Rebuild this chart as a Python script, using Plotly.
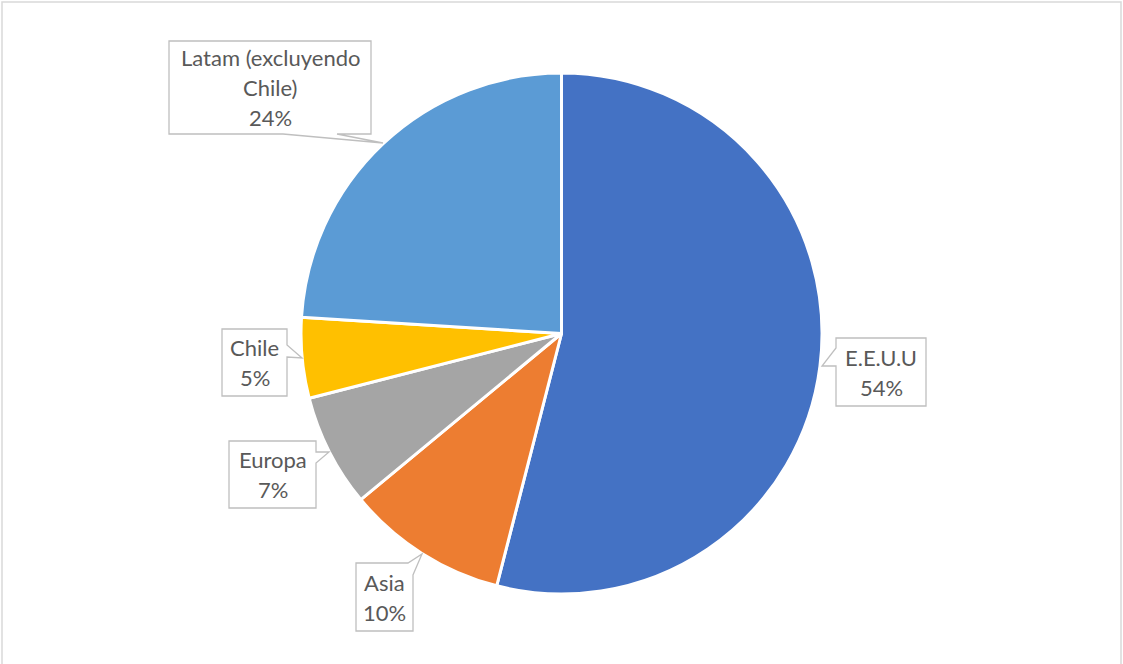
import plotly.graph_objects as go

# Regional distribution
regions = ["E.E.U.U", "Asia", "Europa", "Chile", "Latam (excluyendo Chile)"]
shares = [54, 10, 7, 5, 24]
colors = ["#4472C4", "#ED7D31", "#A5A5A5", "#FFC000", "#5B9BD5"]
label_lines = [["E.E.U.U"], ["Asia"], ["Europa"], ["Chile"], ["Latam (excluyendo", "Chile)"]]

W, H = 1123, 664
CX, CY, R = 561.5, 333.5, 260.5
LINE_GAP = 30

# Callout boxes (pixel space, y downward): box x0, y0, x1, y1 and outline polygon for the tail
callouts = {
    "E.E.U.U": dict(box=(836, 338, 926, 406),
                    path=[(836, 338), (926, 338), (926, 406), (836, 406), (836, 366), (822, 366), (836, 348)]),
    "Asia": dict(box=(356, 563, 413, 631),
                 path=[(356, 563), (408, 563), (422, 554), (413, 575), (413, 631), (356, 631)]),
    "Europa": dict(box=(229, 441, 316, 508),
                   path=[(229, 441), (316, 441), (316, 452), (329, 452), (316, 463), (316, 508), (229, 508)]),
    "Chile": dict(box=(222, 329, 287, 396),
                  path=[(222, 329), (287, 329), (287, 345), (302, 358), (287, 357), (287, 396), (222, 396)]),
    "Latam (excluyendo Chile)": dict(box=(169, 41, 371, 134),
                                     path=[(169, 41), (371, 41), (371, 134), (337, 134), (383, 143), (283, 134), (169, 134)]),
}

fig = go.Figure()
fig.add_trace(go.Pie(
    labels=regions,
    values=shares,
    sort=False,
    direction="clockwise",
    rotation=0,
    marker=dict(colors=colors, line=dict(color="white", width=3)),
    textinfo="none",
    hoverinfo="label+percent",
    showlegend=False,
    domain=dict(x=[(CX - R) / W, (CX + R) / W], y=[(H - CY - R) / H, (H - CY + R) / H]),
))

# invisible pixel-space axes for the callouts
fig.update_xaxes(range=[0, W], visible=False, fixedrange=True)
fig.update_yaxes(range=[H, 0], visible=False, fixedrange=True)

shapes = [dict(type="rect", xref="paper", yref="paper", x0=2 / W, x1=1121 / W, y0=-0.05, y1=1 - 2 / H,
               line=dict(color="#D9D9D9", width=1.5), fillcolor="rgba(0,0,0,0)", layer="below")]
annotations = []
total = sum(shares)
for name, val, lines in zip(regions, shares, label_lines):
    c = callouts[name]
    pts = c["path"]
    d = "M " + " L ".join(f"{x},{y}" for x, y in pts) + " Z"
    shapes.append(dict(type="path", xref="x", yref="y", path=d,
                       fillcolor="white", line=dict(color="#BFBFBF", width=1.3), layer="above"))
    x0, y0, x1, y1 = c["box"]
    rows = lines + [f"{round(100 * val / total)}%"]
    cx, cy = (x0 + x1) / 2, (y0 + y1) / 2
    for i, row in enumerate(rows):
        yy = cy + (i - (len(rows) - 1) / 2) * LINE_GAP
        annotations.append(dict(x=cx, y=yy, xref="x", yref="y",
                                text=row, showarrow=False, align="center",
                                xanchor="center", yanchor="middle",
                                font=dict(family="Lato, Carlito, sans-serif", size=22, color="#595959")))

fig.update_layout(
    width=W, height=H,
    margin=dict(l=0, r=0, t=0, b=0),
    paper_bgcolor="white", plot_bgcolor="white",
    shapes=shapes, annotations=annotations,
)

fig.write_html("out.html")
